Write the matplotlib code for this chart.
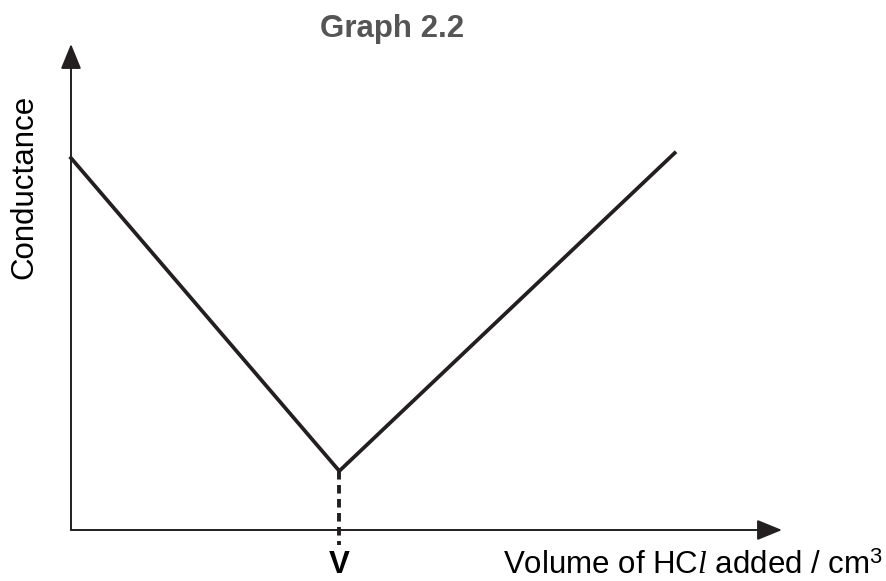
import matplotlib
matplotlib.use("Agg")
import matplotlib.pyplot as plt

plt.rcParams['font.family'] = ['Liberation Sans', 'DejaVu Sans']
plt.rcParams['mathtext.fontset'] = 'custom'
plt.rcParams['mathtext.rm'] = 'Liberation Sans'
plt.rcParams['mathtext.it'] = 'Liberation Serif:italic'

# volume of HCl added (arbitrary units) and conductance (arbitrary units)
volume = [0, 10, 22.5]
conductance = [37.2, 5.9, 37.7]
v_end = 10
x_max = 26.5
y_max = 48.6

fig = plt.figure(figsize=(8.87, 5.81), dpi=100)
ax = fig.add_axes([71 / 887, 51 / 581, 711 / 887, 486 / 581])
ax.set_xlim(0, x_max)
ax.set_ylim(0, y_max)
ax.axis('off')

# axes with arrow heads
arrow = dict(arrowstyle='-|>,head_length=1.1,head_width=0.45', color='#231f20',
             lw=1.4, shrinkA=0, shrinkB=0, mutation_scale=14)
ax.annotate('', xy=(x_max, 0), xytext=(0, 0), arrowprops=arrow, annotation_clip=False)
ax.annotate('', xy=(0, y_max), xytext=(0, 0), arrowprops=arrow, annotation_clip=False)

ax.plot(volume, conductance, color='#231f20', lw=2.7, solid_joinstyle='miter',
        clip_on=False)

# equivalence point marker
ax.plot([v_end, v_end], [conductance[1], -1.5], color='#231f20', lw=2.8,
        dashes=(2.2, 1.4), clip_on=False)

fig.text(392 / 887, 1 - 37 / 581, 'Graph 2.2', ha='center', va='baseline',
         fontsize=22.5, fontweight='bold', color='#555555')
fig.text(24 / 887, 1 - 187 / 581, 'Conductance', ha='center', va='center',
         rotation=90, fontsize=22.5)
fig.text(339 / 887, 1 - 580 / 581, 'V', ha='center', va='bottom',
         fontsize=22.5, fontweight='bold')
fig.text(883 / 887, 1 - 574 / 581, r'Volume of HC$\mathit{l}$ added / cm$^{\mathrm{3}}$',
         ha='right', va='baseline', fontsize=22.5)

fig.savefig('out.png', dpi=100)
